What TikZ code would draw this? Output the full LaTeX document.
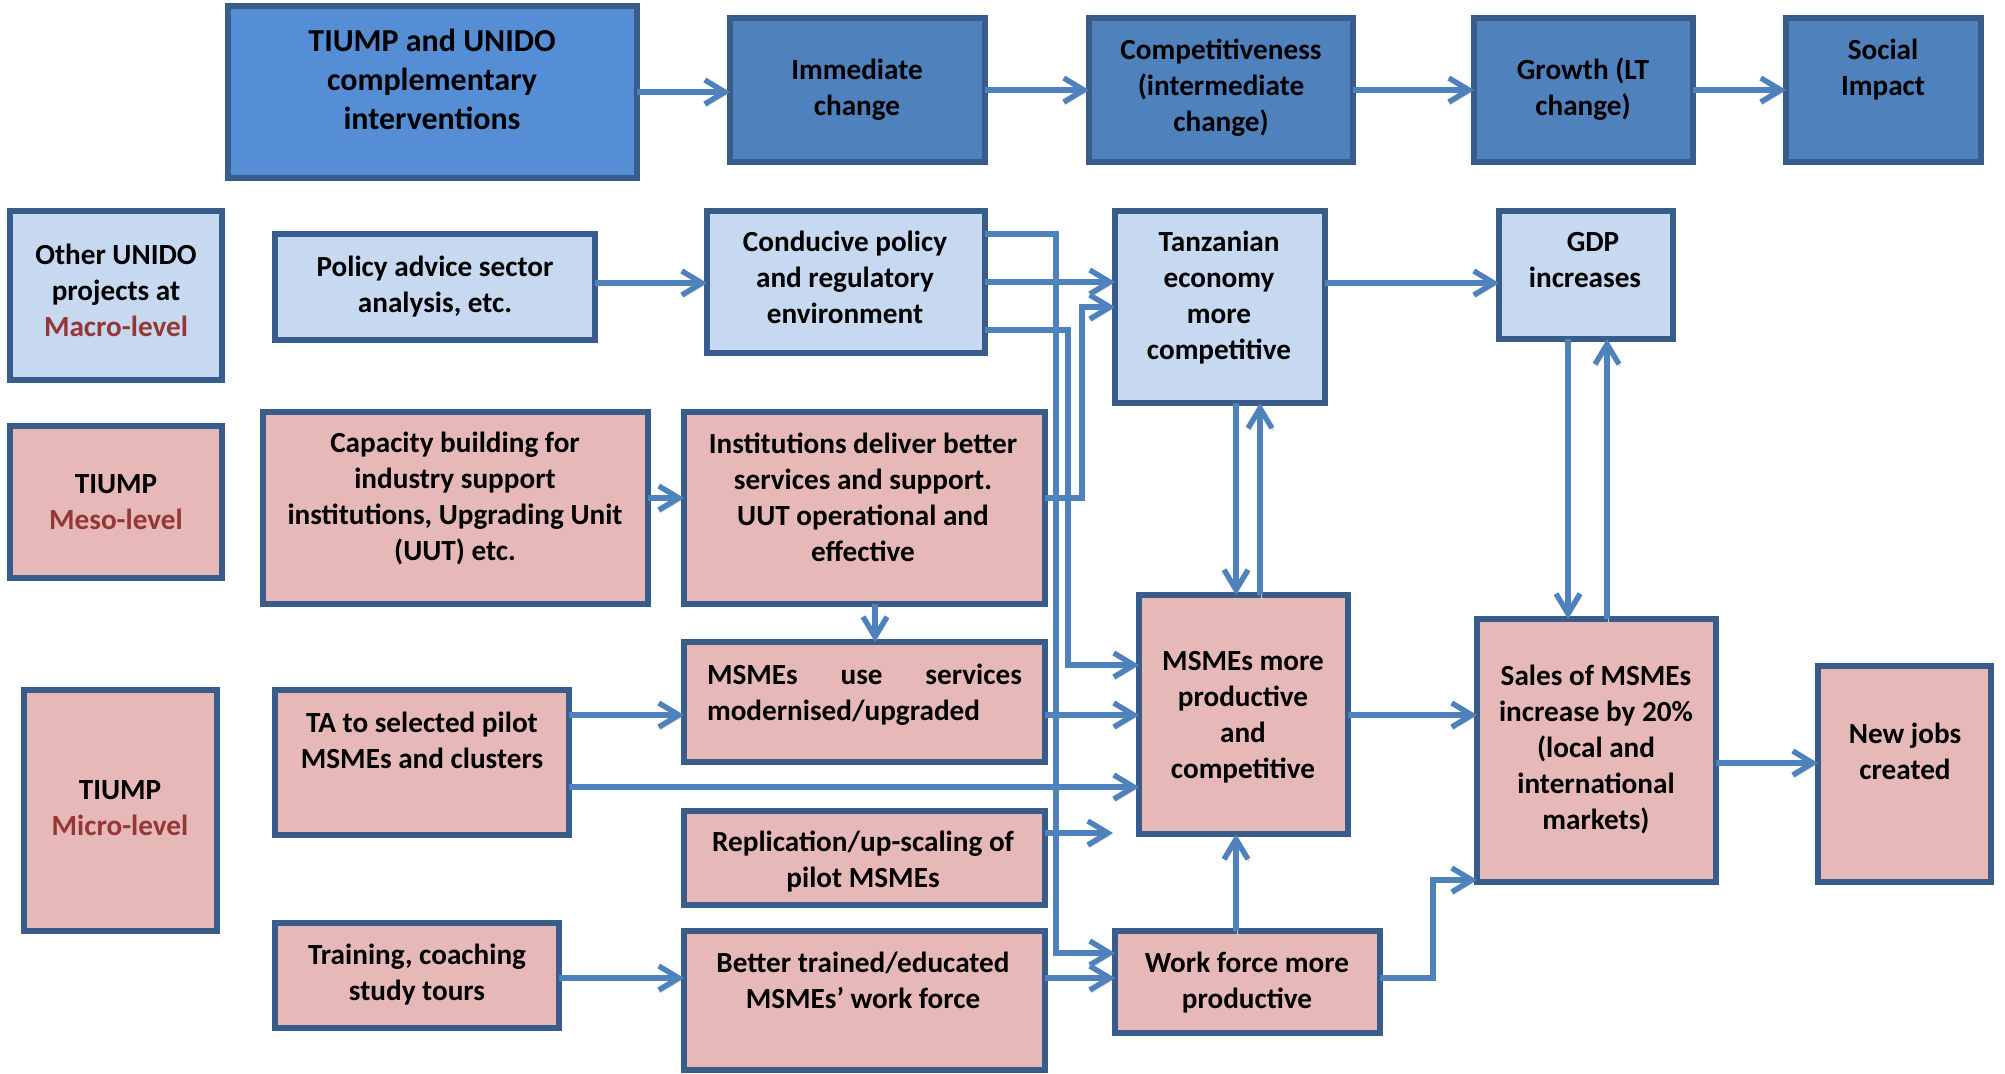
\documentclass[tikz,border=0pt]{standalone}
\usepackage{fontspec}
\setmainfont{Carlito}
\usetikzlibrary{arrows.meta}
\definecolor{bd}{HTML}{385D8A}
\definecolor{dkblue}{HTML}{4F81BD}
\definecolor{brblue}{HTML}{558ED5}
\definecolor{ltblue}{HTML}{C6D9F1}
\definecolor{pk}{HTML}{E6B9B8}
\definecolor{lvl}{HTML}{953735}
\definecolor{lnc}{HTML}{4F81BD}
\newcommand\mkbox[6]{\node[bx,#6,minimum width={(#4-#2)*0.5pt},minimum height={(#5-#3)*0.5pt}] (#1) at ({(#2+#4)/2},{(#3+#5)/2}) {};}
\begin{document}
\begin{tikzpicture}[x=0.5pt,y=-0.5pt,
  bx/.style={draw=bd, line width=2.8pt, inner sep=0pt, outer sep=0pt},
  tx/.style={align=center, font=\fontsize{14.6}{18}\selectfont\bfseries, inner sep=0pt},
  txbig/.style={align=center, font=\fontsize{16}{19.5}\selectfont\bfseries, inner sep=0pt},
  shd/.style={preaction={draw=black!20, transform canvas={shift={(0.7pt,-1.3pt)}}}},
  arr/.style={draw=lnc, line width=2.7pt, -{Straight Barb[length=10pt,width=12pt]}, shd}]
\useasboundingbox (0,0) rectangle (2005,1074);
\fill[white] (0,0) rectangle (2005,1074);
% boxes
\mkbox{b1}{228}{6}{637}{178}{fill=brblue}
\mkbox{b2}{730}{18}{985}{162}{fill=dkblue}
\mkbox{b3}{1089}{18}{1353}{162}{fill=dkblue}
\mkbox{b4}{1474}{18}{1693}{162}{fill=dkblue}
\mkbox{b5}{1786}{18}{1981}{162}{fill=dkblue}
\mkbox{oth}{10}{211}{222}{380}{fill=ltblue}
\mkbox{pol}{275}{234}{595}{340}{fill=ltblue}
\mkbox{cond}{707}{211}{985}{353}{fill=ltblue}
\mkbox{tz}{1115}{211}{1325}{403}{fill=ltblue}
\mkbox{gdp}{1499}{211}{1673}{339}{fill=ltblue}
\mkbox{meso}{10}{426}{222}{578}{fill=pk}
\mkbox{cap}{263}{412}{648}{604}{fill=pk}
\mkbox{inst}{684}{412}{1045}{604}{fill=pk}
\mkbox{mic}{24}{690}{217}{931}{fill=pk}
\mkbox{ta}{275}{690}{569}{835}{fill=pk}
\mkbox{use}{684}{642}{1045}{762}{fill=pk}
\mkbox{rep}{684}{811}{1045}{905}{fill=pk}
\mkbox{trn}{275}{923}{559}{1028}{fill=pk}
\mkbox{bet}{684}{931}{1045}{1070}{fill=pk}
\mkbox{msm}{1139}{595}{1348}{834}{fill=pk}
\mkbox{wf}{1115}{931}{1380}{1033}{fill=pk}
\mkbox{sal}{1477}{619}{1716}{882}{fill=pk}
\mkbox{job}{1818}{666}{1991}{882}{fill=pk}
% texts
\node[txbig] (t1) at (432,79) {TIUMP and UNIDO\\complementary\\interventions};
\node[tx] (t2) at (857,89.5) {Immediate\\change};
\node[tx] (t3) at (1221,88) {Competitiveness\\(intermediate\\change)};
\node[tx] (t4) at (1583,89) {Growth (LT\\change)};
\node[tx] (t5) at (1883,70) {Social\\Impact};
\node[tx] (t6) at (116,290) {Other UNIDO\\projects at\\{\color{lvl}Macro-level}};
\node[tx] (t7) at (435,286.5) {Policy advice sector\\analysis, etc.};
\node[tx] (t8) at (845,277.5) {Conducive policy\\and regulatory\\environment};
\node[tx] (t9) at (1219,298) {Tanzanian\\economy\\more\\competitive};
\node[tx] (t10) at (1585,260) {\hspace*{8pt}GDP\\increases};
\node[tx] (t11) at (116,502) {TIUMP\\{\color{lvl}Meso-level}};
\node[tx] (t12) at (455,498.5) {Capacity building for\\industry support\\institutions, Upgrading Unit\\(UUT) etc.};
\node[tx] (t13) at (863,497.5) {Institutions deliver better\\services and support.\\UUT operational and\\effective};
\node[tx, align=justify, text width=157.5pt] (t14) at (864.5,694.5) {MSMEs use services\linebreak modernised/upgraded};
\node[tx] (t15) at (422,740) {TA to selected pilot\\MSMEs and clusters};
\node[tx] (t16) at (120,808) {TIUMP\\{\color{lvl}Micro-level}};
\node[tx] (t17) at (863,862) {Replication/up-scaling of\\pilot MSMEs};
\node[tx] (t18) at (417,974.5) {Training, coaching\\study tours};
\node[tx] (t19) at (863,980) {Better trained/educated\\MSMEs’ work force};
\node[tx] (t20) at (1243,717.5) {MSMEs more\\productive\\and\\competitive};
\node[tx] (t21) at (1247,982.5) {Work force more\\productive};
\node[tx] (t22) at (1596,749.5) {Sales of MSMEs\\increase by 20\%\\(local and\\international\\markets)};
\node[tx] (t23) at (1905,751) {New jobs\\created};
% connectors
\draw[arr] (b1.east) -- (b1.east -| b2.west);
\draw[arr] (b2.east) -- (b3.west);
\draw[arr] (b3.east) -- (b4.west);
\draw[arr] (b4.east) -- (b5.west);
\draw[arr] (pol.east |- 0,283) -- (cond.west |- 0,283);
\draw[arr] (cond.east |- 0,282) -- (tz.west |- 0,282);
\draw[arr] (tz.east |- 0,283) -- (gdp.west |- 0,283);
\draw[arr] (cond.east |- 0,234) -- (1056,234) -- (1056,953) -- (wf.west |- 0,953);
\draw[arr] (cond.east |- 0,330) -- (1068,330) -- (1068,665) -- (msm.west |- 0,665);
\draw[arr] (inst.east |- 0,498) -- (1082,498) -- (1082,307) -- (tz.west |- 0,307);
\draw[arr] (cap.east |- 0,498) -- (inst.west |- 0,498);
\draw[arr] (inst.south -| 875,0) -- (use.north -| 875,0);
\draw[arr] (ta.east |- 0,715) -- (use.west |- 0,715);
\draw[arr] (ta.east |- 0,787) -- (msm.west |- 0,787);
\draw[arr] (use.east |- 0,715) -- (msm.west |- 0,715);
\coordinate (repend) at (1113,833);
\draw[arr] (rep.east |- repend) -- (repend);
\draw[arr] (trn.east |- 0,978) -- (bet.west |- 0,978);
\draw[arr] (bet.east |- 0,978) -- (wf.west |- 0,978);
\draw[arr] (wf.north -| 1236,0) -- (msm.south -| 1236,0);
\draw[arr] (tz.south -| 1236,0) -- (msm.north -| 1236,0);
\draw[arr] (msm.north -| 1260,0) -- (tz.south -| 1260,0);
\draw[arr] (gdp.south -| 1568,0) -- (sal.north -| 1568,0);
\draw[arr] (sal.north -| 1607,0) -- (gdp.south -| 1607,0);
\draw[arr] (msm.east |- 0,715) -- (sal.west |- 0,715);
\draw[arr] (sal.east |- 0,763) -- (job.west |- 0,763);
\draw[arr] (wf.east |- 0,978) -- (1433,978) -- (1433,880) -- (sal.west |- 0,880);
\end{tikzpicture}
\end{document}
